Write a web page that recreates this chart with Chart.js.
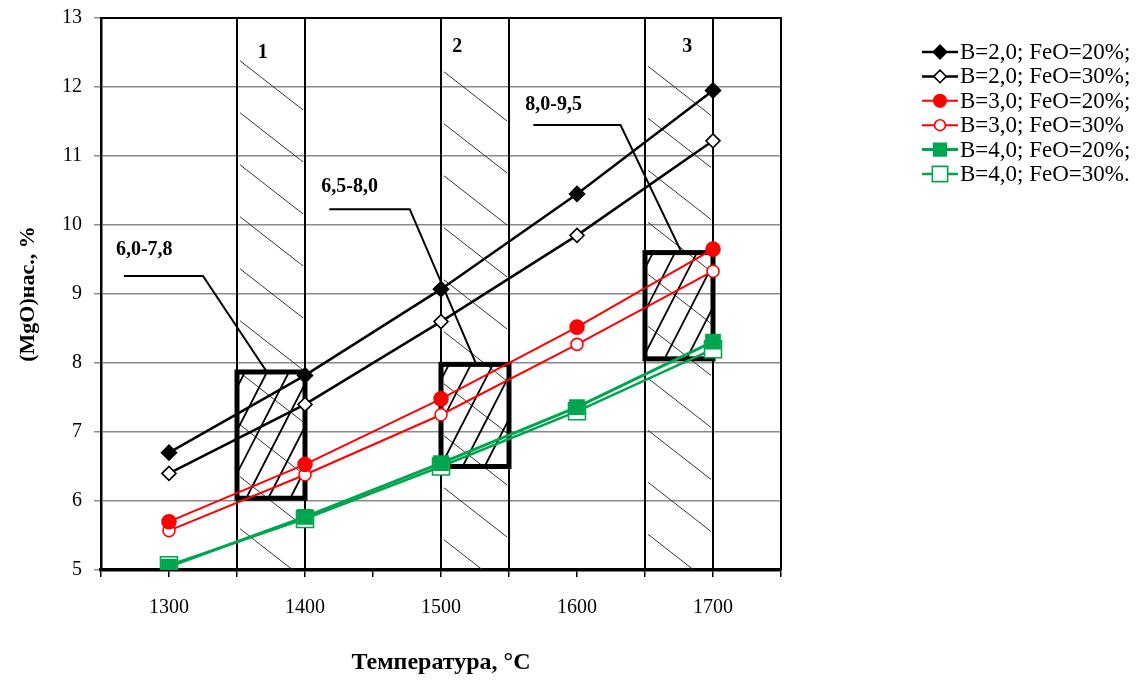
<html>
<head>
<script src="https://cdn.jsdelivr.net/npm/chart.js@4.4.1/dist/chart.umd.min.js"></script>
<style>
  body { margin: 0; background: #fff; }
  #chartCtn { width: 1143px; height: 684px; }
</style>
<title>MgO</title>
</head>
<body>
<div id="chartCtn"><canvas id="canvas"></canvas></div>
<script>
// temperatures, °C
var temps = [1300, 1400, 1500, 1600, 1700];
// (MgO) saturation, %
var b2fe20 = [6.7, 7.82, 9.07, 10.45, 11.95];
var b2fe30 = [6.4, 7.4, 8.6, 9.85, 11.22];
var b3fe20 = [5.7, 6.53, 7.48, 8.52, 9.65];
var b3fe30 = [5.57, 6.38, 7.25, 8.27, 9.33];
var b4fe20 = [5.05, 5.77, 6.55, 7.36, 8.31];
var b4fe30 = [5.07, 5.74, 6.5, 7.3, 8.2];
var seriesNames = ["B=2,0; FeO=20%;", "B=2,0; FeO=30%;", "B=3,0; FeO=20%;",
                   "B=3,0; FeO=30%", "B=4,0; FeO=20%;", "B=4,0; FeO=30%."];
var xTickLabels = [1300, 1400, 1500, 1600, 1700];

// hatched temperature zones and the MgO ranges inside them
var bandNames = ["1", "2", "3"];
var bandFrom = [1350, 1500, 1650];
var bandTo = [1400, 1550, 1700];
var rangeLow = [6.04, 6.5, 8.06];
var rangeHigh = [7.87, 7.98, 9.6];
var rangeLabels = ["6,0-7,8", "6,5-8,0", "8,0-9,5"];

var serif = "'Liberation Serif', 'Times New Roman', serif";
var GREEN = "#00a54f";

function ds(label, data, color, style, radius, filled, width) {
  return {
    label: label,
    data: temps.map(function (t, i) { return {x: t, y: data[i]}; }),
    borderColor: color,
    borderWidth: width,
    pointStyle: style,
    pointRadius: radius,
    pointHoverRadius: radius,
    pointBackgroundColor: filled ? color : "#fff",
    pointBorderColor: color,
    pointBorderWidth: 1.6,
    tension: 0
  };
}

var zonesPlugin = {
  id: "zones",
  beforeDatasetsDraw: function (chart) {
    var ctx = chart.ctx, xs = chart.scales.x, ys = chart.scales.y, a = chart.chartArea;
    ctx.save();
    ctx.beginPath();
    ctx.rect(a.left, a.top, a.right - a.left, a.bottom - a.top);
    ctx.clip();

    // thin "\" hatching in the zones
    ctx.strokeStyle = "#333";
    ctx.lineWidth = 1;
    var starts = [12.38, 12.22, 12.3];
    for (var i = 0; i < bandFrom.length; i++) {
      var x1 = xs.getPixelForValue(bandFrom[i]) + 3;
      var x2 = xs.getPixelForValue(bandTo[i]) - 2;
      var y = ys.getPixelForValue(starts[i]);
      ctx.beginPath();
      while (y < a.bottom - 25) {
        ctx.moveTo(x1, y);
        ctx.lineTo(x2, y + (x2 - x1) * 0.78);
        y += 52;
      }
      ctx.stroke();
    }

    // thick boxes with "/" hatching
    for (var j = 0; j < bandFrom.length; j++) {
      var l = xs.getPixelForValue(bandFrom[j]), r = xs.getPixelForValue(bandTo[j]);
      var t = ys.getPixelForValue(rangeHigh[j]), b = ys.getPixelForValue(rangeLow[j]);
      var h = b - t, run = h / 1.95;
      ctx.save();
      ctx.beginPath();
      ctx.rect(l, t, r - l, h);
      ctx.clip();
      ctx.strokeStyle = "#000";
      ctx.lineWidth = 1.8;
      ctx.beginPath();
      for (var xx = l - run + 8; xx < r; xx += 22) {
        ctx.moveTo(xx, b);
        ctx.lineTo(xx + run, t);
      }
      ctx.stroke();
      ctx.restore();
      ctx.strokeStyle = "#000";
      ctx.lineWidth = 5;
      ctx.strokeRect(l, t, r - l, h);
    }

    // zone borders
    ctx.strokeStyle = "#000";
    ctx.lineWidth = 2;
    ctx.beginPath();
    for (var k = 0; k < bandFrom.length; k++) {
      [bandFrom[k], bandTo[k]].forEach(function (v) {
        var px = xs.getPixelForValue(v);
        ctx.moveTo(px, a.top);
        ctx.lineTo(px, a.bottom);
      });
    }
    ctx.stroke();
    ctx.restore();
  },
  afterDraw: function (chart) {
    var ctx = chart.ctx, xs = chart.scales.x, ys = chart.scales.y, a = chart.chartArea;
    ctx.save();
    // top and right frame
    ctx.strokeStyle = "#000";
    ctx.lineWidth = 2;
    ctx.beginPath();
    ctx.moveTo(a.left, a.top);
    ctx.lineTo(a.right, a.top);
    ctx.lineTo(a.right, a.bottom);
    ctx.stroke();

    // zone numbers
    ctx.fillStyle = "#000";
    ctx.font = "bold 20px " + serif;
    ctx.textAlign = "center";
    ctx.textBaseline = "middle";
    var numX = [1369, 1512, 1681];
    var numY = [12.5, 12.58, 12.58];
    for (var i = 0; i < bandNames.length; i++) {
      ctx.fillText(bandNames[i], xs.getPixelForValue(numX[i]), ys.getPixelForValue(numY[i]));
    }

    // callouts: text, underline, leader to top of box
    var txtX = [1261, 1412, 1562];
    var txtY = [9.64, 10.55, 11.74];
    var lineY = [9.26, 10.23, 11.45];
    var lineEnd = [1325, 1477, 1632];
    var tipX = [1372, 1526, 1677];
    ctx.textAlign = "left";
    ctx.font = "bold 20px " + serif;
    ctx.lineWidth = 2;
    for (var j = 0; j < rangeLabels.length; j++) {
      ctx.fillText(rangeLabels[j], xs.getPixelForValue(txtX[j]), ys.getPixelForValue(txtY[j]));
      ctx.beginPath();
      ctx.moveTo(xs.getPixelForValue(txtX[j]) + 8, ys.getPixelForValue(lineY[j]));
      ctx.lineTo(xs.getPixelForValue(lineEnd[j]), ys.getPixelForValue(lineY[j]));
      ctx.lineTo(xs.getPixelForValue(tipX[j]), ys.getPixelForValue(rangeHigh[j]));
      ctx.stroke();
    }

    // legend at the right
    ctx.font = "23px " + serif;
    chart.data.datasets.forEach(function (d, n) {
      var cy = a.top + 34 + n * 24.4;
      var lx = a.right + 141;
      ctx.strokeStyle = d.borderColor;
      ctx.lineWidth = d.borderWidth;
      ctx.beginPath();
      ctx.moveTo(lx, cy);
      ctx.lineTo(lx + 36, cy);
      ctx.stroke();
      ctx.fillStyle = d.pointBackgroundColor;
      ctx.strokeStyle = d.pointBorderColor;
      ctx.lineWidth = d.pointBorderWidth;
      Chart.helpers.drawPoint(ctx, {pointStyle: d.pointStyle, radius: d.pointRadius * 0.9,
        rotation: 0, borderWidth: d.pointBorderWidth}, lx + 18, cy);
      ctx.fillStyle = "#000";
      ctx.fillText(d.label, lx + 38, cy + 1);
    });
    ctx.restore();
  }
};

window.onload = function () {
  var ctx = document.getElementById("canvas");
  new Chart(ctx, {
    type: "line",
    data: {
      datasets: [
        ds(seriesNames[0], b2fe20, "#000", "rectRot", 7.5, true, 2.5),
        ds(seriesNames[1], b2fe30, "#000", "rectRot", 7, false, 2.5),
        ds(seriesNames[2], b3fe20, "#ff0000", "circle", 7, true, 2),
        ds(seriesNames[3], b3fe30, "#ff0000", "circle", 6, false, 2),
        ds(seriesNames[4], b4fe20, GREEN, "rect", 10, true, 3),
        ds(seriesNames[5], b4fe30, GREEN, "rect", 12, false, 2.5)
      ]
    },
    options: {
      responsive: true,
      maintainAspectRatio: false,
      animation: false,
      layout: { padding: { top: 18, right: 362, left: 0, bottom: 0 } },
      plugins: { legend: { display: false }, tooltip: { enabled: false } },
      scales: {
        x: {
          type: "linear",
          min: 1250,
          max: 1750,
          afterFit: function (s) { s.height = 114; s.paddingLeft = 0; s.paddingRight = 0; },
          ticks: {
            stepSize: 50,
            autoSkip: false,
            maxRotation: 0,
            padding: 19,
            color: "#000",
            font: { family: serif, size: 20 },
            callback: function (v) { return xTickLabels.indexOf(v) >= 0 ? String(v) : ""; }
          },
          grid: { drawOnChartArea: false, color: "#000", lineWidth: 1.5, tickLength: 7 },
          border: { color: "#000", width: 3.5 },
          title: {
            display: true,
            text: "Температура, °C",
            color: "#000",
            font: { family: serif, size: 24, weight: "bold" },
            padding: { top: 0, bottom: 7 }
          }
        },
        y: {
          min: 5,
          max: 13,
          afterFit: function (s) { s.width = 101; s.paddingTop = 0; s.paddingBottom = 0; },
          ticks: {
            stepSize: 1,
            padding: 12,
            color: "#000",
            font: { family: serif, size: 20 }
          },
          grid: { color: "#8a8a8a", lineWidth: 1.5, tickLength: 7 },
          border: { color: "#000", width: 2.5 },
          title: {
            display: true,
            text: "(MgO)нас., %",
            color: "#000",
            font: { family: serif, size: 22, weight: "bold" },
            padding: { top: 15, bottom: 0 }
          }
        }
      }
    },
    plugins: [zonesPlugin]
  });
};
</script>
</body>
</html>
